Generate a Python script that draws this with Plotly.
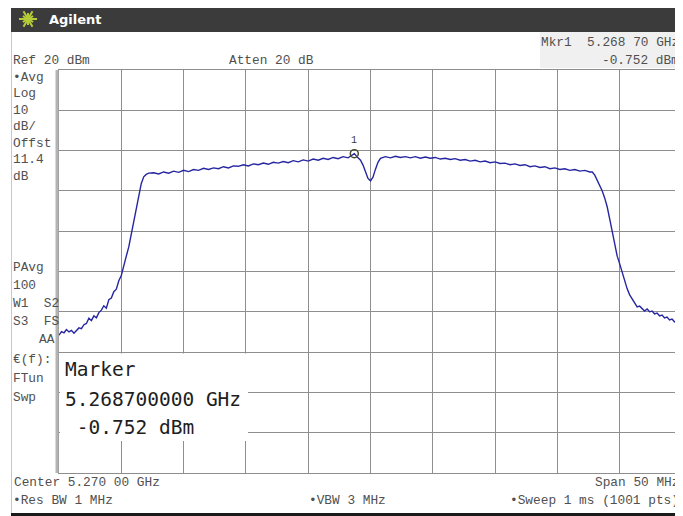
import math
import plotly.graph_objects as go

# spectrum trace (MHz, dBm)
freq_mhz = [
    5245.0, 5245.2, 5245.4, 5245.6, 5245.8, 5246.0, 5246.2, 5246.4, 5246.6, 5246.8,
    5247.0, 5247.2, 5247.4, 5247.6, 5247.8, 5248.0, 5248.2, 5248.4, 5248.6, 5248.8,
    5249.0, 5249.2, 5249.4, 5249.6, 5249.8, 5250.0, 5250.2, 5250.4, 5250.6, 5250.8,
    5251.0, 5251.2, 5251.4, 5251.6, 5251.8, 5252.0, 5252.2,
    5252.6, 5253.0, 5253.4, 5253.8, 5254.2, 5254.6, 5255.0, 5255.4, 5255.8, 5256.2,
    5256.6, 5257.0, 5257.4, 5257.8, 5258.2, 5258.6, 5259.0, 5259.4, 5259.8, 5260.2,
    5260.6, 5261.0, 5261.4, 5261.8, 5262.2, 5262.6, 5263.0, 5263.4, 5263.8, 5264.2,
    5264.6, 5265.0, 5265.4, 5265.8, 5266.2, 5266.6, 5267.0, 5267.4, 5267.8, 5268.2,
    5268.7, 5269.0, 5269.2, 5269.4, 5269.6, 5269.8, 5270.0, 5270.2, 5270.4, 5270.6, 5270.8,
    5271.2, 5271.6, 5272.0, 5272.4, 5272.8, 5273.2, 5273.6, 5274.0, 5274.4, 5274.8,
    5275.2, 5275.6, 5276.0, 5276.4, 5276.8, 5277.2, 5277.6, 5278.0, 5278.4, 5278.8,
    5279.2, 5279.6, 5280.0, 5280.4, 5280.8, 5281.2, 5281.6, 5282.0, 5282.4, 5282.8,
    5283.2, 5283.6, 5284.0, 5284.4, 5284.8, 5285.2, 5285.6, 5286.0, 5286.4, 5286.8,
    5287.2, 5287.6,
    5287.8, 5288.0, 5288.2, 5288.4, 5288.6, 5288.8, 5289.0, 5289.2, 5289.4, 5289.6,
    5289.8, 5290.0, 5290.2, 5290.4, 5290.6, 5290.8, 5291.0, 5291.2, 5291.4, 5291.6,
    5291.8, 5292.0, 5292.2, 5292.4, 5292.6, 5292.8, 5293.0, 5293.2, 5293.4, 5293.6,
    5293.8, 5294.0, 5294.2, 5294.4, 5294.6, 5294.8, 5295.0,
]
level_dbm = [
    -45.8, -44.9, -45.2, -44.4, -45.0, -44.6, -45.3, -44.5, -44.0, -44.2,
    -43.2, -42.9, -41.6, -42.2, -41.0, -41.5, -40.2, -39.6, -38.5, -39.1,
    -37.0, -36.6, -35.0, -34.4, -32.3, -31.0, -28.3, -26.2, -23.9, -20.6,
    -17.3, -13.9, -10.7, -8.2, -6.5, -5.9, -5.6,
    -5.5, -5.8, -5.3, -5.6, -5.1, -5.4, -4.9, -5.2, -4.7, -4.9,
    -4.4, -4.7, -4.3, -4.5, -4.0, -4.3, -3.8, -3.9, -3.5, -3.8,
    -3.3, -3.5, -3.1, -3.4, -2.9, -3.1, -2.7, -3.0, -2.5, -2.8,
    -2.3, -2.6, -2.1, -2.4, -1.9, -2.2, -1.7, -2.0, -1.5, -1.8,
    -0.752, -1.8, -2.4, -3.6, -5.4, -6.9, -7.5, -6.6, -4.6, -2.9, -1.9,
    -1.5, -1.8, -1.4, -1.7, -1.5, -1.8, -1.5, -1.9, -1.6, -1.9,
    -1.7, -2.1, -1.9, -2.2, -2.0, -2.4, -2.2, -2.6, -2.4, -2.8,
    -2.6, -3.0, -2.8, -3.2, -3.1, -3.5, -3.3, -3.7, -3.5, -4.0,
    -3.8, -4.2, -4.0, -4.5, -4.3, -4.7, -4.5, -4.9, -4.7, -5.1,
    -4.9, -5.3,
    -5.3, -6.1, -7.3, -8.5, -10.0, -11.8, -14.0, -17.0, -20.4, -23.7,
    -26.2, -28.1, -30.1, -32.6, -34.3, -35.8, -36.8, -37.8, -38.8, -38.6,
    -39.3, -39.8, -39.3, -40.0, -39.8, -40.5, -40.3, -41.0, -40.8, -41.5,
    -41.3, -42.0, -41.8, -42.5, -42.3, -43.0, -43.5,
]

marker_freq = [5268.7]
marker_level = [-0.752]

ref_level = 20
db_per_div = 10
center_mhz = 5270
span_mhz = 50

# the page body has an 8px margin, so the figure starts at (8, 8) on screen
OFF = 8
FW, FH = 675, 508
L, T, W, H = 59, 70, 623, 403   # grid box in screen pixels
def px(x):
    return (x - L) / W
def py(y):
    return (T + H - y) / H

fig = go.Figure()
fig.add_trace(go.Scatter(x=freq_mhz, y=level_dbm, mode="lines",
                         line=dict(color="#2626a0", width=1.4), hoverinfo="skip"))
fig.add_trace(go.Scatter(x=marker_freq, y=marker_level, mode="markers",
                         marker=dict(symbol="circle-open", size=8, color="#4a4a2a",
                                     line=dict(width=1.5)), hoverinfo="skip"))

mono = "Liberation Mono"
grey = "#505050"
ann = []
def txt(s, x, y, anchor="left", size=12.8, color=grey, family=mono):
    ann.append(dict(text=s, x=px(x), y=py(y), xref="paper", yref="paper",
                    xanchor=anchor, yanchor="middle", showarrow=False,
                    font=dict(family=family, size=size, color=color)))

txt("Agilent", 47, 19, size=13, color="white", family="DejaVu Sans")
ann[-1]["font"]["weight"] = "bold"
txt("Mkr1  5.268 70 GHz", 681, 43, anchor="right")
txt("-0.752 dBm", 681, 61, anchor="right")
txt("Ref 20 dBm", 11, 61)
txt("Atten 20 dB", 227, 61)
for i, s in enumerate(["\u2022Avg", "Log", "10", "dB/", "Offst", "11.4", "dB"]):
    txt(s, 11, 77 + i * 16.5)
for i, s in enumerate(["PAvg", "100", "W1  S2", "S3  FS"]):
    txt(s, 11, 267 + i * 18)
txt("AA", 57, 339, anchor="right")
for i, s in enumerate(["\u20ac(f):", "FTun", "Swp"]):
    txt(s, 11, 359 + i * 19)
txt("Center 5.270 00 GHz", 12, 482)
txt("\u2022Res BW 1 MHz", 11, 500)
txt("\u2022VBW 3 MHz", 307, 500)
txt("Span 50 MHz", 681, 482, anchor="right")
txt("\u2022Sweep 1 ms (1001 pts)", 681, 500, anchor="right")

big = "DejaVu Sans Mono"
txt("Marker", 63, 370, size=19.5, color="#1e1e1e", family=big)
txt("5.268700000 GHz", 63, 399, size=19.5, color="#1e1e1e", family=big)
txt("\u00a0-0.752 dBm", 63, 427, size=19.5, color="#1e1e1e", family=big)

# marker number above the circle
ann.append(dict(text="1", x=marker_freq[0], y=marker_level[0], xref="x", yref="y",
                yshift=13, showarrow=False,
                font=dict(family=mono, size=10, color="#3a3a3a")))

shapes = [
    dict(type="rect", xref="paper", yref="paper", x0=px(11), x1=px(683), y0=py(32), y1=py(6),
         fillcolor="#3b3b3b", line=dict(width=0), layer="above"),
    dict(type="rect", xref="paper", yref="paper", x0=px(540), x1=px(683), y0=py(68), y1=py(32),
         fillcolor="#f0f0f0", line=dict(width=0), layer="below"),
    dict(type="line", xref="paper", yref="paper", x0=px(11.5), x1=px(11.5), y0=py(32), y1=py(513),
         line=dict(color="#c8c8c8", width=1)),
    dict(type="line", xref="paper", yref="paper", x0=px(57), x1=px(57), y0=py(70), y1=py(473),
         line=dict(color="#b4b4b4", width=3)),
    dict(type="line", xref="paper", yref="paper", x0=px(11), x1=px(683), y0=py(514.5), y1=py(514.5),
         line=dict(color="#1a1a1a", width=3)),
    dict(type="rect", xref="paper", yref="paper", x0=px(60), x1=px(248), y0=py(441), y1=py(353.5),
         fillcolor="white", line=dict(width=0), layer="above"),
]
# starburst logo in the title bar
for k in range(12):
    a = k * math.pi / 6
    r = 9 if k % 2 == 0 else 6
    shapes.append(dict(type="line", xref="paper", yref="paper",
                       x0=px(28), y0=py(19), x1=px(28 + r * math.cos(a)), y1=py(19 - r * math.sin(a)),
                       line=dict(color="#b6cc38", width=2), layer="above"))

fig.update_layout(
    width=FW, height=FH,
    margin=dict(l=L - OFF, r=FW - (L - OFF) - W, t=T - OFF, b=FH - (T - OFF) - H),
    paper_bgcolor="white", plot_bgcolor="white",
    showlegend=False,
    xaxis=dict(range=[center_mhz - span_mhz / 2, center_mhz + span_mhz / 2], dtick=span_mhz / 10,
               showticklabels=False, ticks="", gridcolor="#8e8e8e", gridwidth=1, zeroline=False,
               showline=True, mirror=True, linecolor="#8e8e8e", linewidth=1, fixedrange=True),
    yaxis=dict(range=[ref_level - 10 * db_per_div, ref_level], dtick=db_per_div,
               showticklabels=False, ticks="", gridcolor="#8e8e8e", gridwidth=1, zeroline=False,
               showline=True, mirror=True, linecolor="#8e8e8e", linewidth=1, fixedrange=True),
    annotations=ann,
    shapes=shapes,
)

fig.write_html("out.html")
